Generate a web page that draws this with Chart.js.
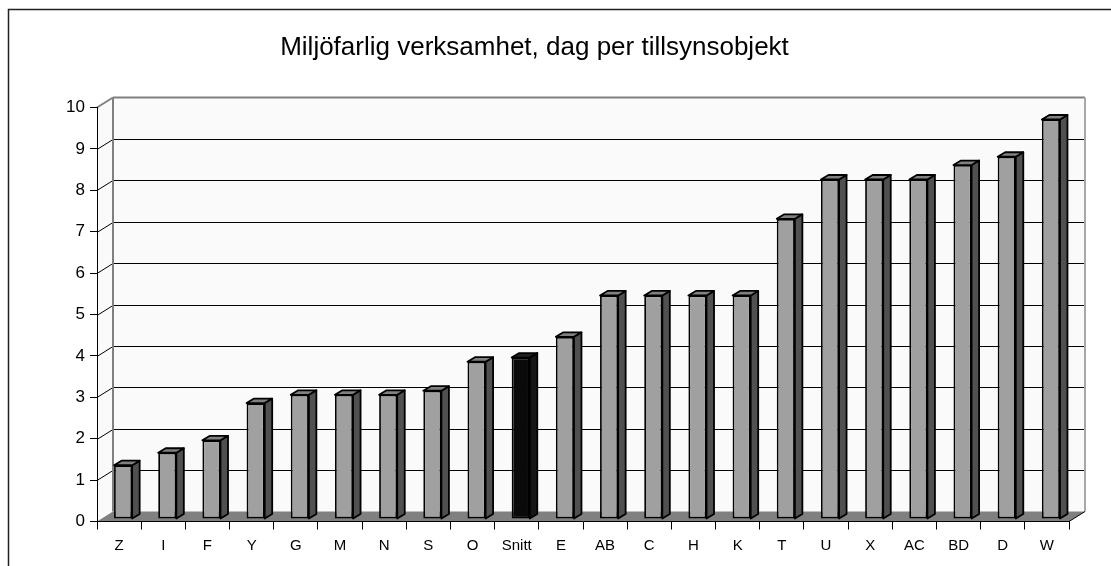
<!DOCTYPE html>
<html>
<head>
<meta charset="utf-8">
<title>Miljöfarlig verksamhet</title>
<script src="https://cdn.jsdelivr.net/npm/chart.js"></script>
<style>
body{margin:0;background:#fff;}
#grafico{display:block;}
</style>
</head>
<body>
<canvas id="grafico" width="1111" height="566"></canvas>
<script>
var kategorier = ["Z","I","F","Y","G","M","N","S","O","Snitt","E","AB","C","H","K","T","U","X","AC","BD","D","W"];
var dagar = [1.3,1.6,1.9,2.8,3.0,3.0,3.0,3.1,3.8,3.9,4.4,5.4,5.4,5.4,5.4,7.25,8.2,8.2,8.2,8.55,8.75,9.65];
var yTicks = [0,1,2,3,4,5,6,7,8,9,10];
var titel = "Miljöfarlig verksamhet, dag per tillsynsobjekt";

// 3d-ish look: wall depth, bar shift and bar depth
var djup = {x:16, y:-10};
var flytt = {x:4, y:-2.5};
var stapelDjup = {x:7.5, y:-4.5};

function poly(ctx, pts){
	ctx.beginPath();
	ctx.moveTo(pts[0][0], pts[0][1]);
	for(var i=1;i<pts.length;i++) ctx.lineTo(pts[i][0], pts[i][1]);
	ctx.closePath();
}
function linje(ctx, x1, y1, x2, y2){
	ctx.beginPath(); ctx.moveTo(x1,y1); ctx.lineTo(x2,y2); ctx.stroke();
}
function arSnitt(i){ return kategorier[i]=="Snitt"; }

var rum = {
	id:'rum',
	beforeDraw:function(chart){
		var ctx=chart.ctx, a=chart.chartArea, ys=chart.scales.y;
		var bx=a.left+djup.x, by=a.top+djup.y, bb=a.bottom+djup.y, br=a.right+djup.x;
		ctx.save();
		ctx.fillStyle='#fff';
		ctx.fillRect(0,0,chart.width,chart.height);
		ctx.strokeStyle='#222'; ctx.lineWidth=1.5;
		ctx.strokeRect(8.5,9.5,chart.width+20,chart.height+20);

		// walls
		ctx.fillStyle='#fafafa';
		poly(ctx,[[a.left,a.top],[bx,by],[bx,bb],[a.left,a.bottom]]); ctx.fill();
		ctx.fillRect(bx,by,br-bx,bb-by);

		ctx.strokeStyle='#000'; ctx.lineWidth=1;
		yTicks.forEach(function(v){
			if(v==yTicks[0] || v==yTicks[yTicks.length-1]) return;
			var py=Math.round(ys.getPixelForValue(v))+0.5;
			linje(ctx,a.left,py,bx,py+djup.y);
			linje(ctx,bx,py+djup.y,br,py+djup.y);
		});

		ctx.strokeStyle='#808080'; ctx.lineWidth=2;
		linje(ctx,a.left,a.top,bx,by);
		linje(ctx,bx,by,br,by);
		linje(ctx,bx,by,bx,bb);
		ctx.strokeStyle='#a8a8a8';
		linje(ctx,br,by,br,bb);

		// floor
		ctx.fillStyle='#808080';
		poly(ctx,[[a.left,a.bottom],[bx,bb],[br,bb],[a.right,a.bottom]]); ctx.fill();
		ctx.strokeStyle='#000'; ctx.lineWidth=1;
		linje(ctx,a.right,a.bottom,br,bb);
		ctx.restore();
	},
	beforeDatasetsDraw:function(chart){
		chart.ctx.save();
		chart.ctx.translate(flytt.x,flytt.y);
	},
	afterDatasetsDraw:function(chart){
		var ctx=chart.ctx;
		var meta=chart.getDatasetMeta(0);
		ctx.lineWidth=1.8; ctx.strokeStyle='#000'; ctx.lineJoin='round';
		meta.data.forEach(function(el,i){
			var l=el.x-el.width/2, r=el.x+el.width/2, t=el.y, b=el.base;
			var dx=stapelDjup.x, dy=stapelDjup.y;
			ctx.fillStyle=arSnitt(i)?'#161616':'#505050';
			poly(ctx,[[r,t],[r+dx,t+dy],[r+dx,b+dy],[r,b]]); ctx.fill(); ctx.stroke();
			ctx.fillStyle=arSnitt(i)?'#202020':'#808080';
			poly(ctx,[[l,t],[l+dx,t+dy],[r+dx,t+dy],[r,t]]); ctx.fill(); ctx.stroke();
		});
		ctx.restore();
	}
};

var graf=new Chart(document.getElementById("grafico"),{
	type:'bar',
	data:{
		labels:kategorier,
		datasets:[{
			label:titel,
			data:dagar,
			backgroundColor:kategorier.map(function(k,i){ return arSnitt(i)?'#0a0a0a':'#a0a0a0'; }),
			borderColor:'#000',
			borderWidth:1.8,
			borderSkipped:false,
			barPercentage:0.41,
			categoryPercentage:1
		}]
	},
	options:{
		responsive:false,
		animation:false,
		layout:{padding:{top:0,left:0,right:42,bottom:0}},
		plugins:{
			legend:{display:false},
			tooltip:{enabled:false},
			title:{
				display:true,
				text:titel,
				color:'#000',
				font:{family:'Liberation Sans',size:26,weight:'normal'},
				padding:{top:32,bottom:44.3}
			}
		},
		scales:{
			x:{
				grid:{offset:true,drawOnChartArea:false,tickLength:8,color:'#000'},
				border:{display:true,color:'#000',width:1},
				ticks:{color:'#000',font:{family:'Liberation Sans',size:15},padding:7,maxRotation:0,autoSkip:false},
				afterFit:function(s){ s.height=44.5; }
			},
			y:{
				min:0,max:10,
				afterBuildTicks:function(s){ s.ticks=yTicks.map(function(v){ return {value:v}; }); },
				grid:{drawOnChartArea:false,tickLength:7,color:'#000'},
				border:{display:true,color:'#000',width:1},
				ticks:{color:'#000',font:{family:'Liberation Sans',size:17},padding:5},
				afterFit:function(s){ s.width=97; }
			}
		}
	},
	plugins:[rum]
});
</script>
</body>
</html>
